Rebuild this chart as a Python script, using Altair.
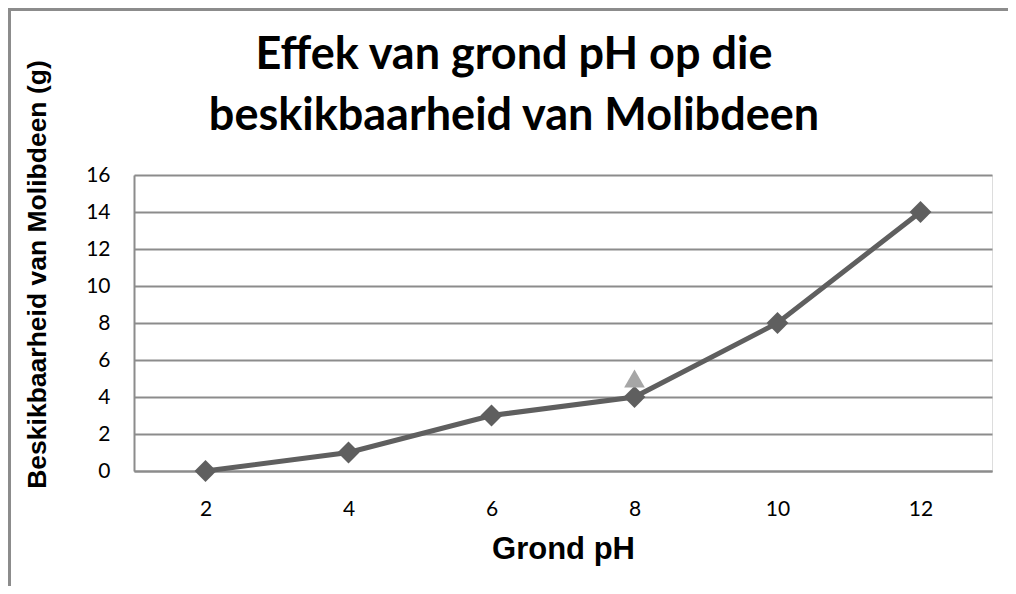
import altair as alt
import pandas as pd

ph = ["2", "4", "6", "8", "10", "12"]
molibdeen = [0, 1, 3, 4, 8, 14]
extra_ph = ["8"]
extra_val = [5]

title_lines = ["Effek van grond pH op die", "beskikbaarheid van Molibdeen"]
x_title = "Grond pH"
y_title = "Beskikbaarheid van Molibdeen (g)"
y_ticks = [0, 2, 4, 6, 8, 10, 12, 14, 16]

main = pd.DataFrame({"ph": ph, "val": molibdeen})
extra = pd.DataFrame({"ph": extra_ph, "val": extra_val})

x_enc = alt.X(
    "ph:N",
    sort=ph,
    scale=alt.Scale(domain=ph, paddingInner=0, paddingOuter=0),
    axis=alt.Axis(
        title=x_title,
        labelAngle=0,
        ticks=False,
        labelPadding=27,
        labelFont="Lato",
        labelFontSize=21,
        labelColor="#000000",
        titleFont="Liberation Sans",
        titleFontSize=31,
        titleFontWeight="bold",
        titleColor="#000000",
        titleBaseline="alphabetic",
        titleY=87,
        domainColor="#8c8c8c",
        domainWidth=2,
        grid=False,
    ),
)
y_enc = alt.Y(
    "val:Q",
    scale=alt.Scale(domain=[0, 16], nice=False),
    axis=alt.Axis(
        title=y_title,
        values=y_ticks,
        labelOverlap=False,
        ticks=False,
        labelPadding=24,
        labelFont="Lato",
        labelFontSize=21,
        labelColor="#000000",
        titleFont="Liberation Sans",
        titleFontSize=26.5,
        titleFontWeight="bold",
        titleColor="#000000",
        titleX=-97,
        titleY=99,
        titleAngle=270,
        titleBaseline="middle",
        domainColor="#8c8c8c",
        domainWidth=2,
        gridColor="#8c8c8c",
        gridWidth=2,
    ),
)

line = alt.Chart(main).mark_line(
    color="#5f5f5f", strokeWidth=5,
    point=alt.OverlayMarkDef(shape="diamond", size=480, filled=True, color="#5f5f5f", opacity=1),
).encode(x=x_enc, y=y_enc)

tri = alt.Chart(extra).mark_point(
    shape="triangle-up", size=430, filled=True, color="#a6a6a6", opacity=1
).encode(x=x_enc, y=y_enc)

frame_df = pd.DataFrame({"k": [0]})
left_border = alt.Chart(frame_df).mark_rule(color="#8c8c8c", strokeWidth=3).encode(
    x=alt.value(-124.5), y=alt.value(-167), y2=alt.value(430)
)
top_border = alt.Chart(frame_df).mark_rule(color="#8c8c8c", strokeWidth=3).encode(
    x=alt.value(-126), x2=alt.value(874), y=alt.value(-165.5)
)

title_df = pd.DataFrame({"line": title_lines, "pos": [0, 1]})
title1 = alt.Chart(title_df).transform_filter("datum.pos == 0").mark_text(
    font="Lato", fontSize=45, fontWeight="bold", color="#000000",
    align="center", baseline="alphabetic",
).encode(text="line:N", x=alt.value(380), y=alt.value(-106))
title2 = alt.Chart(title_df).transform_filter("datum.pos == 1").mark_text(
    font="Lato", fontSize=45, fontWeight="bold", color="#000000",
    align="center", baseline="alphabetic",
).encode(text="line:N", x=alt.value(380), y=alt.value(-45))

chart = alt.layer(line, tri, left_border, top_border, title1, title2).properties(
    width=858,
    height=296,
    padding={"left": 126, "top": 167, "right": 16, "bottom": 115},
    autosize=alt.AutoSizeParams(type="none"),
).configure_view(stroke=None).configure(background="#ffffff")

chart.save("out.html", embed_options={"renderer": "svg", "actions": False})
